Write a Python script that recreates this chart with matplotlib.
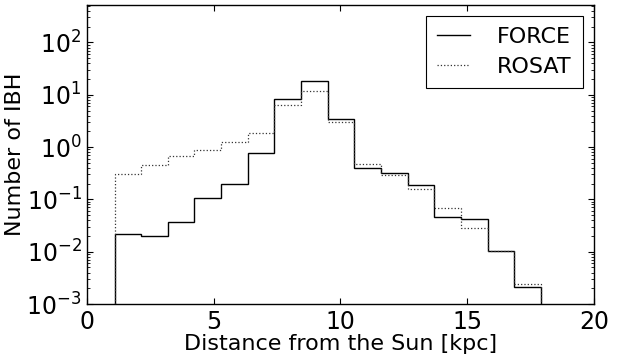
import numpy as np
import matplotlib
matplotlib.use("Agg")
import matplotlib.pyplot as plt
from matplotlib.lines import Line2D

# bin edges (kpc) and counts
edges = np.linspace(1.08, 17.91, 17)
force = [0.0217, 0.0201, 0.037, 0.107, 0.195, 0.76, 8.2, 18.6, 3.5,
         0.39, 0.326, 0.19, 0.046, 0.042, 0.0104, 0.00214]
rosat = [0.312, 0.455, 0.667, 0.895, 1.25, 1.86, 6.35, 11.7, 2.97,
         0.475, 0.29, 0.155, 0.069, 0.028, 0.0105, 0.00244]

plt.rcParams['font.family'] = ['DejaVu Sans']
plt.rcParams['xtick.direction'] = 'in'
plt.rcParams['ytick.direction'] = 'in'
plt.rcParams['xtick.top'] = True
plt.rcParams['ytick.right'] = True

fig = plt.figure(figsize=(6.27, 3.56), dpi=100)
ax = fig.add_axes([0.139, 0.146, 0.808, 0.840])

centers = 0.5 * (edges[:-1] + edges[1:])
ax.hist(centers, bins=edges, weights=force, histtype='step', color='black',
        lw=1.0)
ax.hist(centers, bins=edges, weights=rosat, histtype='step', color='#333333',
        lw=0.9, ls=':')

ax.set_yscale('log')
ax.set_xlim(0, 20)
ax.set_ylim(1e-3, 520)
ax.set_xticks([0, 5, 10, 15, 20])
ax.set_yticks([1e-3, 1e-2, 1e-1, 1e0, 1e1, 1e2])
ax.tick_params(which='major', length=4, width=0.8, labelsize=17)
ax.tick_params(axis='x', pad=4)
ax.tick_params(axis='y', pad=4)
ax.tick_params(which='minor', length=2, width=0.6)
for s in ax.spines.values():
    s.set_linewidth(1.0)
ax.set_xlabel('Distance from the Sun [kpc]', fontsize=16, labelpad=0)
ax.set_ylabel('Number of IBH', fontsize=16, labelpad=1)

handles = [Line2D([], [], color='black', lw=1.0),
           Line2D([], [], color='#333333', lw=0.9, ls=':')]
leg = ax.legend(handles, ['FORCE', 'ROSAT'], loc='upper right', fontsize=16,
                fancybox=False, framealpha=1, edgecolor='black',
                handlelength=1.5, handletextpad=1.2, borderpad=0.5,
                labelspacing=0.45, borderaxespad=0.5)
leg.get_frame().set_linewidth(0.8)

fig.savefig('out.png', dpi=100, facecolor='white')
